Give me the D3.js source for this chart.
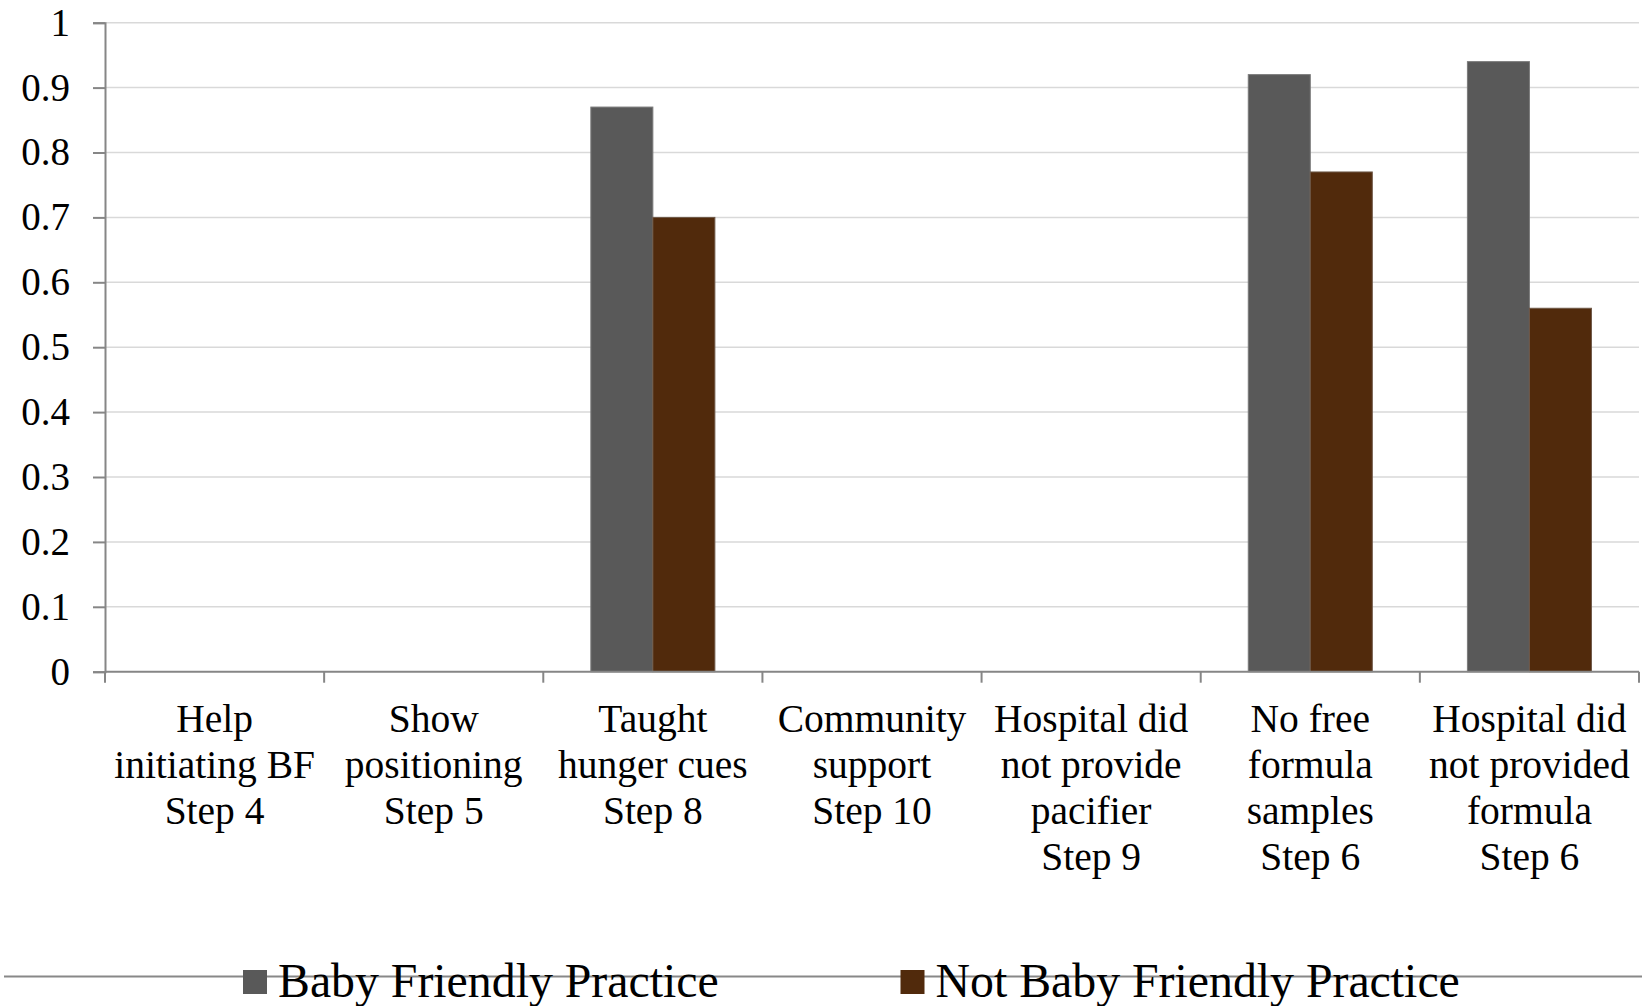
<!DOCTYPE html>
<html>
<head>
<meta charset="utf-8">
<script src="https://cdn.jsdelivr.net/npm/d3@7"></script>
<style>
  html, body { margin: 0; padding: 0; background: #fff; overflow: hidden; }
  svg, svg text { font-family: "Liberation Serif", "Times New Roman", serif; }
  svg { display: block; }
</style>
</head>
<body>
<svg width="1642" height="1006"></svg>
<script>
// categories (label lines)
var categories = [
  ["Help", "initiating BF", "Step 4"],
  ["Show", "positioning", "Step 5"],
  ["Taught", "hunger cues", "Step 8"],
  ["Community", "support", "Step 10"],
  ["Hospital did", "not provide", "pacifier", "Step 9"],
  ["No free", "formula", "samples", "Step 6"],
  ["Hospital did", "not provided", "formula", "Step 6"]
];
var seriesNames = ["Baby Friendly Practice", "Not Baby Friendly Practice"];
var babyFriendly = [0, 0, 0.87, 0, 0, 0.92, 0.94];
var notBabyFriendly = [0, 0, 0.70, 0, 0, 0.77, 0.56];
var yTicks = [0, 0.1, 0.2, 0.3, 0.4, 0.5, 0.6, 0.7, 0.8, 0.9, 1];
var colors = ["#595959", "#512a0c"];

window.onload = () => {
  var svg = d3.select("svg");
  var left = 105, right = 1639, top = 22.7, bottom = 671.7;

  var keys = categories.map(function(d, i) { return i; });
  var x0 = d3.scaleBand().domain(keys).range([left, right]).padding(0);
  var bw = x0.bandwidth();
  var x1 = d3.scaleBand().domain([0, 1]).range([bw * 0.217, bw * 0.783]);
  var y = d3.scaleLinear().domain([0, 1]).range([bottom, top]);

  // gridlines
  svg.append("g")
    .selectAll("line")
    .data(yTicks.filter(function(d) { return d > 0; }))
    .enter().append("line")
      .attr("x1", left).attr("x2", right)
      .attr("y1", function(d) { return y(d); })
      .attr("y2", function(d) { return y(d); })
      .attr("stroke", "#d9d9d9")
      .attr("stroke-width", 1.5);

  // bars
  var rows = keys.map(function(i) {
    return { i: i, vals: [babyFriendly[i], notBabyFriendly[i]] };
  });
  var groups = svg.append("g").selectAll("g")
    .data(rows)
    .enter().append("g")
      .attr("transform", function(d) { return "translate(" + x0(d.i) + ",0)"; });
  groups.selectAll("rect")
    .data(function(d) { return d.vals.filter(function(v) { return v > 0; }).length ? d.vals.map(function(v, k) { return { k: k, v: v }; }) : []; })
    .enter().append("rect")
      .attr("x", function(d) { return x1(d.k); })
      .attr("width", x1.bandwidth())
      .attr("y", function(d) { return y(d.v); })
      .attr("height", function(d) { return y(0) - y(d.v); })
      .attr("fill", function(d) { return colors[d.k]; })
      .attr("stroke", function(d) { return d.k === 0 ? "#7a7a7a" : "#6e5848"; })
      .attr("stroke-width", 1);

  // y axis
  var yAxis = svg.append("g").attr("transform", "translate(" + left + ",0)")
    .call(d3.axisLeft(y).tickValues(yTicks).tickSize(12).tickPadding(23)
      .tickFormat(function(d) { return d === 0 || d === 1 ? String(d) : d3.format(".1f")(d); }));
  yAxis.attr("font-family", null).attr("font-size", null);
  yAxis.select(".domain").attr("stroke", "#868686").attr("stroke-width", 2);
  yAxis.selectAll(".tick line").attr("stroke", "#868686").attr("stroke-width", 2);
  yAxis.selectAll(".tick text")
    .style("font-size", "39px").attr("fill", "#000")
    .style("font-family", '"Liberation Serif", "Times New Roman", serif');

  // x axis line + boundary ticks
  var xg = svg.append("g");
  xg.append("line")
    .attr("x1", left).attr("x2", right)
    .attr("y1", bottom).attr("y2", bottom)
    .attr("stroke", "#868686").attr("stroke-width", 2);
  var bounds = keys.map(function(i) { return x0(i); }).concat([right]);
  xg.selectAll("line.tk")
    .data(bounds)
    .enter().append("line")
      .attr("class", "tk")
      .attr("x1", function(d) { return d; }).attr("x2", function(d) { return d; })
      .attr("y1", bottom).attr("y2", bottom + 11)
      .attr("stroke", "#868686").attr("stroke-width", 2);

  // category labels
  var labels = xg.selectAll("text.cat")
    .data(rows)
    .enter().append("text")
      .attr("class", "cat")
      .attr("text-anchor", "middle")
      .style("font-size", "39.5px")
      .attr("fill", "#000");
  labels.selectAll("tspan")
    .data(function(d) {
      return categories[d.i].map(function(t, j) { return { t: t, j: j, cx: x0(d.i) + bw / 2 }; });
    })
    .enter().append("tspan")
      .attr("x", function(d) { return d.cx; })
      .attr("y", function(d) { return 732 + d.j * 46; })
      .text(function(d) { return d.t; });

  // bottom rule + legend
  svg.append("line")
    .attr("x1", 4).attr("x2", 1642)
    .attr("y1", 976.5).attr("y2", 976.5)
    .attr("stroke", "#888").attr("stroke-width", 2);

  var legendX = [243, 900.5];
  var legend = svg.append("g").selectAll("g")
    .data(seriesNames)
    .enter().append("g")
      .attr("transform", function(d, i) { return "translate(" + legendX[i] + ",970)"; });
  legend.append("rect")
    .attr("width", 24).attr("height", 24)
    .attr("fill", function(d, i) { return colors[i]; });
  legend.append("text")
    .attr("x", 35).attr("y", 26.5)
    .style("font-size", "47.8px")
    .attr("fill", "#000")
    .text(function(d) { return d; });
};
</script>
</body>
</html>
